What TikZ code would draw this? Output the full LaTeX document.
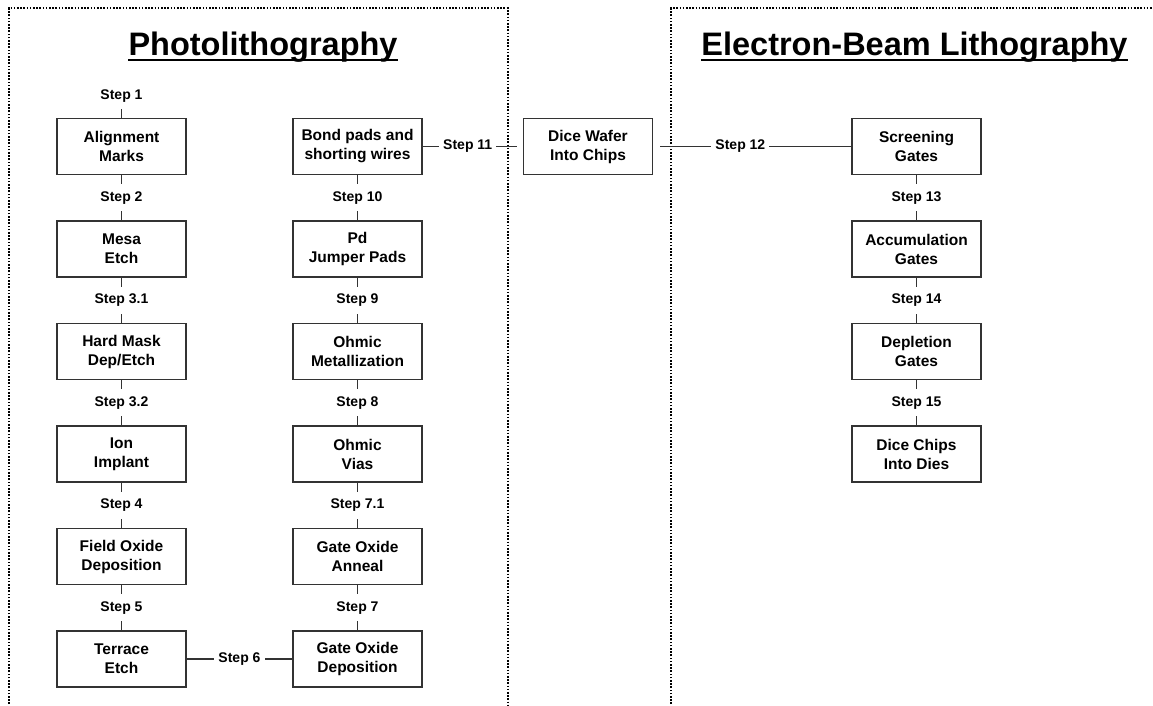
\documentclass[tikz,border=0pt]{standalone}
\usepackage{fontspec}
\setmainfont{Liberation Sans}
\usetikzlibrary{positioning}
\definecolor{boxline}{rgb}{0.20,0.20,0.20}
\tikzset{
  proc/.style={
    draw=boxline, line width=1.5pt, fill=white,
    align=center, inner sep=2pt, minimum width=129pt, minimum height=56pt,
    font=\fontsize{15.5}{19}\selectfont\bfseries
  },
  stp/.style={
    fill=white, inner xsep=4pt, inner ysep=7pt,
    font=\fontsize{14}{16}\selectfont\bfseries
  },
  ttl/.style={inner sep=0pt, font=\fontsize{32.5}{38}\selectfont\bfseries},
  ul/.style={line width=2pt},
  link/.style={draw=boxline, line width=1.4pt},
  frame/.style={line width=2pt, dash pattern=on 1.6pt off 1.6pt}
}
\begin{document}
\begin{tikzpicture}[x=1pt, y=-1pt, node distance=45pt]
    \useasboundingbox (0,0) rectangle (1153,706);

    % Dotted frames of the two stages.
    \draw[frame] (8.5,720) -- (8.5,8.5) -- (508,8.5) -- (508,720);
    \draw[frame] (671,720) -- (671,8.5) -- (1170,8.5);

    % Stage titles.
    \node[ttl, anchor=base] (pltitle) at (263,56) {Photolithography};
    \node[ttl, anchor=base] (ebtitle) at (914.5,56) {Electron-Beam Lithography};
    \draw[ul] ([yshift=-4pt]pltitle.base west) -- ([yshift=-4pt]pltitle.base east);
    \draw[ul] ([yshift=-4pt]ebtitle.base west) -- ([yshift=-4pt]ebtitle.base east);

    % Photolithography, first column.
    \node[proc] (am) at (121.5,146.5) {Alignment\\Marks};
    \node[proc, below=of am] (me) {Mesa\\Etch};
    \node[proc, below=of me] (hm) {Hard Mask\\Dep/Etch};
    \node[proc, below=of hm] (ii) {Ion\\Implant};
    \node[proc, below=of ii] (fo) {Field Oxide\\Deposition};
    \node[proc, below=of fo] (te) {Terrace\\Etch};

    % Photolithography, second column.
    \node[proc] (bp) at (357.5,146.5) {Bond pads and\\shorting wires};
    \node[proc, below=of bp] (pj) {Pd\\Jumper Pads};
    \node[proc, below=of pj] (om) {Ohmic\\Metallization};
    \node[proc, below=of om] (ov) {Ohmic\\Vias};
    \node[proc, below=of ov] (ga) {Gate Oxide\\Anneal};
    \node[proc, below=of ga] (gd) {Gate Oxide\\Deposition};

    % Between the stages.
    \node[proc] (dw) at (588,146.5) {Dice Wafer\\Into Chips};

    % Electron-beam lithography.
    \node[proc] (sg) at (916.5,146.5) {Screening\\Gates};
    \node[proc, below=of sg] (ag) {Accumulation\\Gates};
    \node[proc, below=of ag] (dg) {Depletion\\Gates};
    \node[proc, below=of dg] (dc) {Dice Chips\\Into Dies};

    \node[stp, above=8.5pt of am] (s1) {Step 1};
    \draw[link] (s1) -- (am);

    % Down the first column.
    \draw[link] (am) -- node[stp] (s2) {Step 2} (me);
    \draw[link] (me) -- node[stp] (s31) {Step 3.1} (hm);
    \draw[link] (hm) -- node[stp] (s32) {Step 3.2} (ii);
    \draw[link] (ii) -- node[stp] (s4) {Step 4} (fo);
    \draw[link] (fo) -- node[stp] (s5) {Step 5} (te);

    % Across, then up the second column.
    \draw[link] (te) -- node[stp] (s6) {Step 6} (gd);
    \draw[link] (gd) -- node[stp] (s7) {Step 7} (ga);
    \draw[link] (ga) -- node[stp] (s71) {Step 7.1} (ov);
    \draw[link] (ov) -- node[stp] (s8) {Step 8} (om);
    \draw[link] (om) -- node[stp] (s9) {Step 9} (pj);
    \draw[link] (pj) -- node[stp] (s10) {Step 10} (bp);

    % Out to dicing and the e-beam stage.
    \draw[link, shorten >=6pt] (bp) -- node[stp, pos=.45] (s11) {Step 11} (dw);
    \draw[link, shorten <=7pt] (dw) -- node[stp, pos=.44] (s12) {Step 12} (sg);

    % Down the e-beam column.
    \draw[link] (sg) -- node[stp] (s13) {Step 13} (ag);
    \draw[link] (ag) -- node[stp] (s14) {Step 14} (dg);
    \draw[link] (dg) -- node[stp] (s15) {Step 15} (dc);
\end{tikzpicture}
\end{document}
